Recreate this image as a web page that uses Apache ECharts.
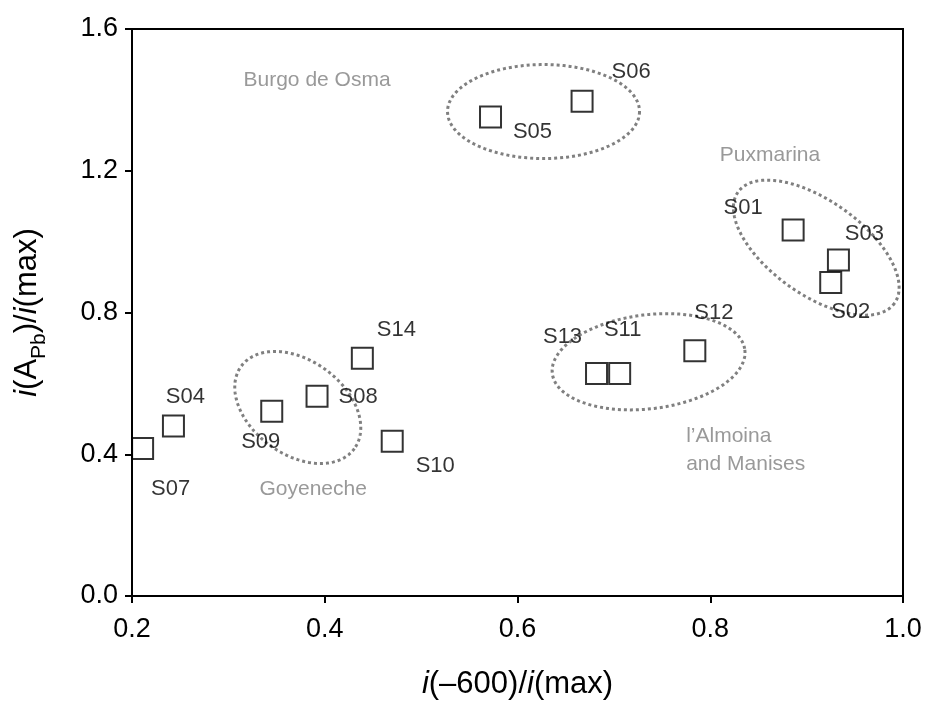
<!DOCTYPE html>
<html>
<head>
<meta charset="utf-8">
<script src="https://cdn.jsdelivr.net/npm/echarts@6/dist/echarts.min.js"></script>
<style>
  html, body { margin: 0; padding: 0; background: #fff; }
  #chart { width: 927px; height: 713px; }
</style>
</head>
<body>
<div id="chart"></div>
<script>
// Samples and their normalised currents
const sampleNames = ['S01','S02','S03','S04','S05','S06','S07','S08','S09','S10','S11','S12','S13','S14'];
const xValues = [0.886, 0.925, 0.933, 0.243, 0.572, 0.667, 0.211, 0.392, 0.345, 0.470, 0.706, 0.784, 0.682, 0.439];
const yValues = [1.033, 0.885, 0.948, 0.480, 1.352, 1.396, 0.416, 0.564, 0.521, 0.437, 0.628, 0.692, 0.628, 0.671];

// Tick values
const xTicks = [0.2, 0.4, 0.6, 0.8, 1.0];
const yTicks = [0.0, 0.4, 0.8, 1.2, 1.6];

// Site groups: name, ellipse centre (data units)
const groupNames = ['Burgo de Osma', 'Puxmarina', 'Goyeneche', 'l\u2019Almoina\nand Manises'];
const groupCentreX = [0.627, 0.910, 0.372, 0.736];
const groupCentreY = [1.367, 0.983, 0.532, 0.661];
const groupLabelX = [0.392, 0.862, 0.388, 0.775];
const groupLabelY = [1.456, 1.244, 0.302, 0.412];

// Ellipse shapes in pixels: semi-major, semi-minor, rotation (deg, screen)
const ellipseShape = [[96, 47, 0], [96, 47, 35.4], [70, 47, 36], [97, 47, -7]];
// Label placement around each marker (px from marker centre)
const labelOffsets = [[-49,-21],[21,31],[27,-25],[13,-28],[43,16],[50,-28],[29,41],[42,2],[-10,32],[44,26],[4,-43],[20,-37],[-33,-36],[35,-27]];
const groupAlign = ['center', 'center', 'center', 'left'];

const FONT = '"Liberation Sans", Arial, Helvetica, sans-serif';
const GREY = '#808080';
const MARK = 21;

const chart = echarts.init(document.getElementById('chart'), null, { renderer: 'canvas' });

const sampleData = sampleNames.map((n, i) => ({
  value: [xValues[i], yValues[i]],
  name: n,
  label: { position: [MARK / 2 + labelOffsets[i][0], MARK / 2 + labelOffsets[i][1]] }
}));

const groupLabelData = groupNames.map((n, i) => ({
  value: [groupLabelX[i], groupLabelY[i]],
  name: n,
  label: { align: groupAlign[i] }
}));

const ellipseData = groupNames.map((n, i) => [groupCentreX[i], groupCentreY[i], i]);

function renderEllipse(params, api) {
  const c = api.coord([api.value(0), api.value(1)]);
  const s = ellipseShape[api.value(2)];
  const a = s[0], b = s[1], t = s[2] * Math.PI / 180;
  const pts = [];
  const N = 180;
  for (let k = 0; k <= N; k++) {
    const p = 2 * Math.PI * k / N;
    const ex = a * Math.cos(p), ey = b * Math.sin(p);
    pts.push([c[0] + ex * Math.cos(t) - ey * Math.sin(t), c[1] + ex * Math.sin(t) + ey * Math.cos(t)]);
  }
  return {
    type: 'polyline',
    shape: { points: pts },
    style: { fill: null, stroke: GREY, lineWidth: 3, lineDash: [3, 3] }
  };
}

const option = {
  backgroundColor: '#fff',
  animation: false,
  textStyle: { fontFamily: FONT },
  grid: {
    left: 132, right: 24, top: 29, bottom: 117,
    show: true, borderColor: '#000', borderWidth: 2, backgroundColor: 'transparent'
  },
  xAxis: {
    type: 'value',
    min: xTicks[0], max: xTicks[xTicks.length - 1], interval: 0.2,
    axisLine: { show: true, onZero: false, lineStyle: { color: '#000', width: 2 } },
    axisTick: { show: true, length: 7, inside: false, lineStyle: { color: '#000', width: 2 } },
    splitLine: { show: false },
    axisLabel: { color: '#000', fontSize: 27, margin: 20, fontFamily: FONT,
      formatter: v => v.toFixed(1) },
    name: '{i|i}{n|(\u2013600)/}{i|i}{n|(max)}',
    nameLocation: 'middle',
    nameGap: 73,
    nameTextStyle: {
      rich: {
        i: { fontSize: 31, fontStyle: 'italic', color: '#000', fontFamily: FONT },
        n: { fontSize: 31, color: '#000', fontFamily: FONT }
      }
    }
  },
  yAxis: {
    type: 'value',
    min: yTicks[0], max: yTicks[yTicks.length - 1], interval: 0.4,
    axisLine: { show: true, onZero: false, lineStyle: { color: '#000', width: 2 } },
    axisTick: { show: true, length: 7, inside: false, lineStyle: { color: '#000', width: 2 } },
    splitLine: { show: false },
    axisLabel: { color: '#000', fontSize: 27, margin: 14, fontFamily: FONT,
      formatter: v => v.toFixed(1) },
    name: '{i|i}{n|(A}{s|Pb}{n|)/}{i|i}{n|(max)}',
    nameLocation: 'middle',
    nameRotate: 90,
    nameGap: 82,
    nameTextStyle: {
      rich: {
        i: { fontSize: 31, fontStyle: 'italic', color: '#000', fontFamily: FONT, verticalAlign: 'bottom', padding: [0, 0, 7, 0] },
        n: { fontSize: 31, color: '#000', fontFamily: FONT, verticalAlign: 'bottom', padding: [0, 0, 7, 0] },
        s: { fontSize: 21, color: '#000', fontFamily: FONT, verticalAlign: 'bottom' }
      }
    }
  },
  series: [
    {
      type: 'custom',
      name: 'groups',
      renderItem: renderEllipse,
      data: ellipseData,
      z: 1,
      silent: true
    },
    {
      type: 'scatter',
      name: 'samples',
      data: sampleData,
      symbol: 'rect',
      symbolSize: MARK,
      itemStyle: { color: 'rgba(0,0,0,0)', borderColor: '#000', borderWidth: 2 },
      label: {
        show: true,
        formatter: p => p.name,
        color: '#000',
        fontSize: 22,
        fontFamily: FONT,
        align: 'center',
        verticalAlign: 'middle'
      },
      labelLayout: { hideOverlap: false },
      z: 3
    },
    {
      type: 'scatter',
      name: 'group labels',
      data: groupLabelData,
      symbolSize: 0,
      itemStyle: { color: 'transparent' },
      label: {
        show: true,
        position: 'inside',
        formatter: p => p.name,
        color: GREY,
        fontSize: 21,
        lineHeight: 28,
        fontFamily: FONT,
        verticalAlign: 'middle'
      },
      z: 2,
      silent: true
    }
  ]
};

chart.setOption(option);
</script>
</body>
</html>
